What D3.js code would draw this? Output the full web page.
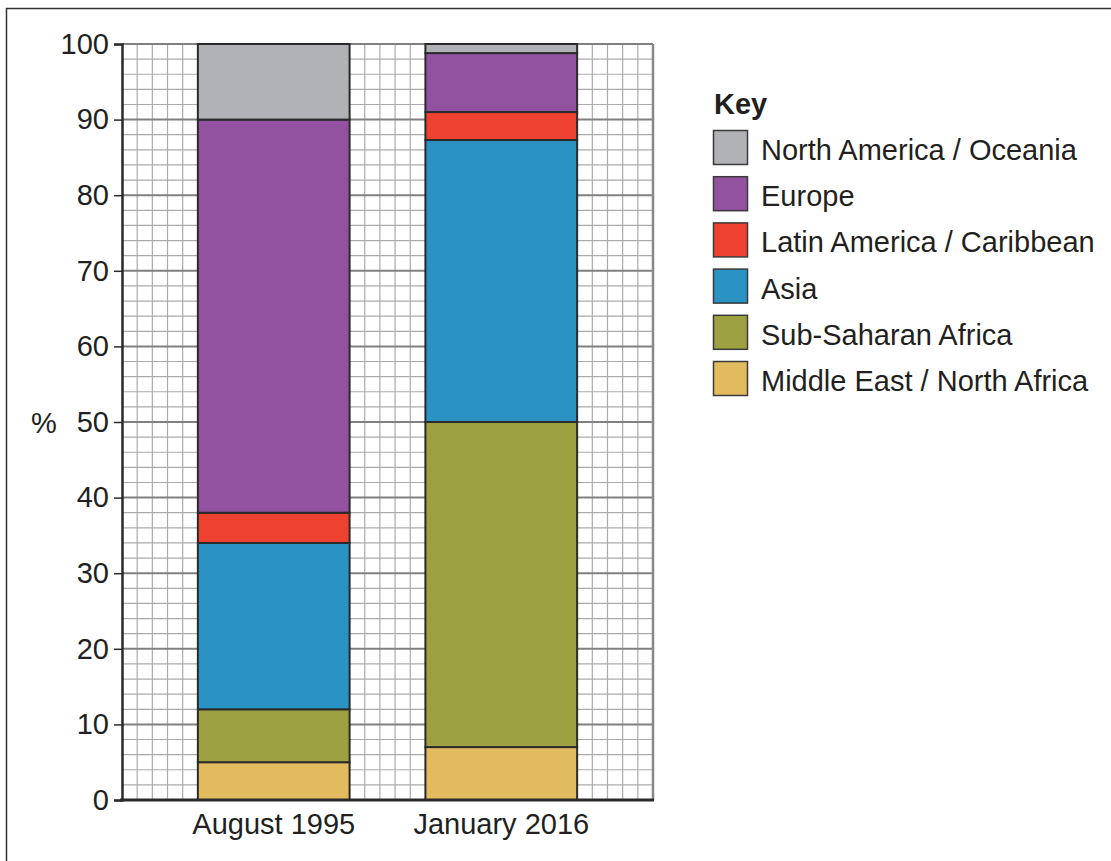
<!DOCTYPE html>
<html>
<head>
<meta charset="utf-8">
<script src="https://cdn.jsdelivr.net/npm/d3@7"></script>
<style>
    body { margin: 0; background: #fff; }
    svg { display: block; font-family: "Liberation Sans", Arial, sans-serif; }
</style>
</head>
<body>
<div id="vis"></div>
<script>
// values (stack order: bottom to top)
const periods = ["August 1995", "January 2016"];
const regions = ["Middle East / North Africa", "Sub-Saharan Africa", "Asia",
    "Latin America / Caribbean", "Europe", "North America / Oceania"];
const aug1995 = [5, 7, 22, 4, 52, 10];
const jan2016 = [7, 43, 37.3, 3.7, 7.8, 1.2];
const regionColors = ["#e3bb5f", "#9ea141", "#2b92c4", "#ee4130", "#9352a0", "#b1b2b5"];
const yTicks = [0, 10, 20, 30, 40, 50, 60, 70, 80, 90, 100];

const width = 1111, height = 861;
const fontSize = 29;

const svg = d3.select("#vis")
    .append("svg")
    .attr("width", width)
    .attr("height", height);

// outer frame, runs off the right and bottom of the page
svg.append("rect")
    .attr("x", 6.5).attr("y", 8.5)
    .attr("width", width + 20).attr("height", height + 20)
    .attr("fill", "none")
    .attr("stroke", "#333")
    .attr("stroke-width", 1.5);

const plotLeft = 122, plotRight = 653, plotTop = 44, plotBottom = 800;

const y = d3.scaleLinear().domain([0, 100]).range([plotBottom, plotTop]);
const cells = d3.scaleLinear().domain([0, 35]).range([plotLeft, plotRight]);
const x = d3.scaleBand().domain(periods).range([plotLeft, plotRight])
    .paddingInner(1 / 3).paddingOuter(1 / 3);

// grid paper
const grid = svg.append("g");
grid.selectAll(".vline")
    .data(d3.range(1, 35))
    .enter().append("line")
    .attr("x1", d => cells(d)).attr("x2", d => cells(d))
    .attr("y1", plotTop).attr("y2", plotBottom)
    .attr("stroke", "#ababab")
    .attr("stroke-width", 1.2);

grid.selectAll(".hline")
    .data(d3.range(2, 101, 2))
    .enter().append("line")
    .attr("x1", plotLeft).attr("x2", plotRight)
    .attr("y1", d => y(d)).attr("y2", d => y(d))
    .attr("stroke", d => d % 10 === 0 ? "#808080" : "#ababab")
    .attr("stroke-width", d => d % 10 === 0 ? 2 : 1.2);

grid.append("line")
    .attr("x1", plotRight).attr("x2", plotRight)
    .attr("y1", plotTop).attr("y2", plotBottom)
    .attr("stroke", "#888")
    .attr("stroke-width", 2.5);

// stacked bars
const rows = periods.map((p, i) => {
    const vals = i === 0 ? aug1995 : jan2016;
    const r = { period: p };
    regions.forEach((g, j) => r[g] = vals[j]);
    return r;
});
const series = d3.stack().keys(regions)(rows);
const color = d3.scaleOrdinal().domain(regions).range(regionColors);

svg.append("g").selectAll("g")
    .data(series)
    .enter().append("g")
    .attr("fill", d => color(d.key))
    .selectAll("rect")
    .data(d => d)
    .enter().append("rect")
    .attr("x", d => x(d.data.period))
    .attr("width", x.bandwidth())
    .attr("y", d => y(d[1]))
    .attr("height", d => y(d[0]) - y(d[1]))
    .attr("stroke", "#2a2a2a")
    .attr("stroke-width", 2);

// axes
const yAxis = svg.append("g")
    .attr("transform", "translate(" + plotLeft + ",0)")
    .call(d3.axisLeft(y).tickValues(yTicks).tickSize(8).tickPadding(5));
yAxis.select(".domain").attr("stroke", "#2a2a2a").attr("stroke-width", 2.5);
yAxis.selectAll(".tick line").attr("stroke", "#2a2a2a").attr("stroke-width", 1.5);
yAxis.selectAll("text")
    .attr("font-size", fontSize)
    .attr("font-family", "Liberation Sans, Arial, sans-serif")
    .attr("fill", "#231f20");

const xAxis = svg.append("g")
    .attr("transform", "translate(0," + plotBottom + ")")
    .call(d3.axisBottom(x).tickSize(0).tickPadding(13));
xAxis.select(".domain").remove();
xAxis.selectAll("text")
    .attr("font-size", fontSize)
    .attr("font-family", "Liberation Sans, Arial, sans-serif")
    .attr("fill", "#231f20");

svg.append("line")
    .attr("x1", plotLeft - 2).attr("x2", plotRight + 1)
    .attr("y1", plotBottom).attr("y2", plotBottom)
    .attr("stroke", "#2a2a2a")
    .attr("stroke-width", 3);

svg.append("text")
    .attr("x", 44).attr("y", 433)
    .attr("text-anchor", "middle")
    .attr("font-size", fontSize)
    .attr("fill", "#231f20")
    .text("%");

// key
const legend = svg.append("g").attr("transform", "translate(713,0)");
legend.append("text")
    .attr("x", 1).attr("y", 114)
    .attr("font-size", 29)
    .attr("font-weight", "bold")
    .attr("fill", "#231f20")
    .text("Key");

const keyItems = legend.selectAll(".key")
    .data(regions.slice().reverse())
    .enter().append("g")
    .attr("transform", (d, i) => "translate(0," + (130 + i * 46.2) + ")");
keyItems.append("rect")
    .attr("x", 0.5).attr("y", 0.5)
    .attr("width", 34).attr("height", 34)
    .attr("fill", d => color(d))
    .attr("stroke", "#3a3a3a")
    .attr("stroke-width", 1.5);
keyItems.append("text")
    .attr("x", 48).attr("y", 30)
    .attr("font-size", fontSize)
    .attr("fill", "#231f20")
    .text(d => d);
</script>
</body>
</html>
